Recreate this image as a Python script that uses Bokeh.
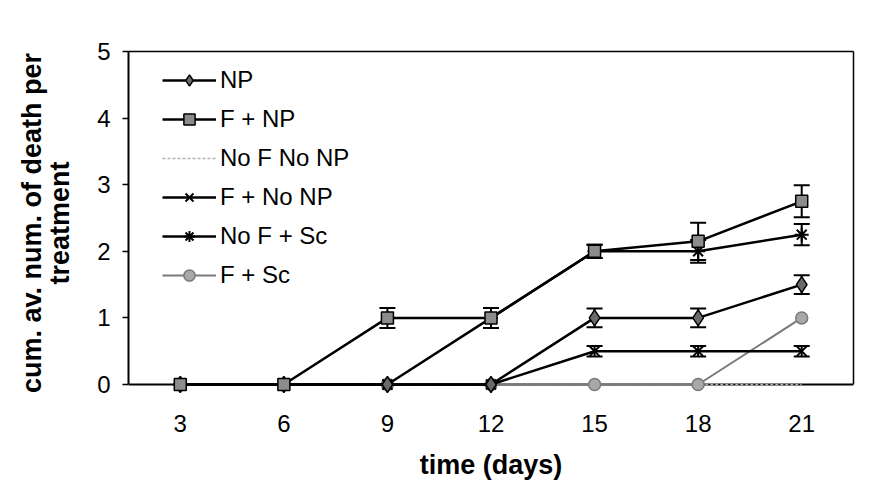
from bokeh.plotting import figure
from bokeh.models import (ColumnDataSource, Whisker, TeeHead, Legend, LegendItem,
                          FixedTicker, Range1d, LinearAxis, Span)
from bokeh.embed import file_html
from bokeh.resources import INLINE

# ---- data ----
days = [3, 6, 9, 12, 15, 18, 21]
np_mean = [0, 0, 0, 0, 1, 1, 1.5]
np_err = [0, 0, 0, 0, 0.14, 0.14, 0.14]
f_np_mean = [0, 0, 1, 1, 2, 2.15, 2.75]
f_np_err = [0, 0, 0.15, 0.15, 0.1, 0.28, 0.24]
nof_nonp_mean = [0, 0, 0, 0, 0, 0, 0]
f_nonp_mean = [0, 0, 0, 0, 0.5, 0.5, 0.5]
f_nonp_err = [0, 0, 0, 0, 0.08, 0.08, 0.08]
nof_sc_mean = [0, 0, 0, 1, 2, 2, 2.25]
nof_sc_err = [0, 0, 0, 0.15, 0.1, 0.17, 0.16]
f_sc_mean = [0, 0, 0, 0, 0, 0, 1]

y_ticks = [0, 1, 2, 3, 4, 5]
y_min, y_max = 0, 5
x_title = "time (days)"
y_title_lines = ["cum. av. num. of death per", "treatment"]

FONT = "Liberation Sans"

p = figure(width=870, height=486, output_backend="svg", toolbar_location=None,
           x_range=Range1d(1.5, 22.5), y_range=Range1d(-0.15, 5),
           min_border_left=128, min_border_top=51, min_border_right=17,
           min_border_bottom=92)
p.background_fill_color = None
p.border_fill_color = None
p.grid.visible = False
p.outline_line_color = None

# axes
p.xaxis.ticker = FixedTicker(ticks=days)
p.yaxis.ticker = FixedTicker(ticks=y_ticks)
p.yaxis.bounds = (y_min, y_max)
for ax in (p.xaxis, p.yaxis):
    ax.axis_line_color = "black"
    ax.axis_line_width = 2
    ax.major_label_text_font = FONT
    ax.major_label_text_font_size = "24px"
    ax.major_label_text_color = "black"
    ax.axis_label_text_font = FONT
    ax.axis_label_text_font_size = "27px"
    ax.axis_label_text_font_style = "bold"
    ax.axis_label_text_color = "black"
    ax.minor_tick_line_color = None
p.xaxis.axis_line_color = None
p.xaxis.major_tick_line_color = None
p.xaxis.major_label_standoff = 14
p.xaxis.axis_label = x_title
p.xaxis.axis_label_standoff = 15
p.yaxis.major_tick_out = 6
p.yaxis.major_tick_in = 0
p.yaxis.major_tick_line_width = 1.5
p.yaxis.major_label_standoff = 12
p.yaxis.axis_label = y_title_lines[1]
p.yaxis.axis_label_standoff = 19

# outer line of the two-line y title
y_title_ax = LinearAxis(ticker=FixedTicker(ticks=[]), major_label_text_font_size="0px",
                        axis_line_color=None, major_tick_line_color=None,
                        minor_tick_line_color=None, major_tick_out=0, major_tick_in=0,
                        major_label_standoff=0, axis_label=y_title_lines[0],
                        axis_label_standoff=-4, axis_label_text_font=FONT,
                        axis_label_text_font_size="27px", axis_label_text_font_style="bold",
                        axis_label_text_color="black")
p.add_layout(y_title_ax, "left")

# x axis line at y = 0
p.add_layout(Span(location=0, dimension="width", line_color="black", line_width=2,
                  level="underlay"))

# frame border on top and right
top_ax = LinearAxis(ticker=FixedTicker(ticks=[]), major_label_text_font_size="0px",
                    axis_line_width=1.5, axis_line_color="black",
                    major_tick_line_color=None, minor_tick_line_color=None)
right_ax = LinearAxis(ticker=FixedTicker(ticks=[]), major_label_text_font_size="0px",
                      axis_line_width=1.5, axis_line_color="black", bounds=(y_min, y_max),
                      major_tick_line_color=None, minor_tick_line_color=None)
p.add_layout(top_ax, "above")
p.add_layout(right_ax, "right")

LW = 2.5

def series(mean, color, marker, fill, size, line_width=LW, dash="solid", mk_lw=1.5):
    r_line = p.line(days, mean, line_color=color, line_width=line_width, line_dash=dash)
    rs = [r_line]
    if marker is not None:
        r_m = p.scatter(days, mean, marker=marker, size=size, fill_color=fill,
                        line_color=color, line_width=mk_lw)
        rs.append(r_m)
    return rs

def errbars(mean, err):
    b = [d for d, e in zip(days, err) if e > 0]
    up = [m + e for m, e in zip(mean, err) if e > 0]
    lo = [m - e for m, e in zip(mean, err) if e > 0]
    src = ColumnDataSource(dict(base=b, upper=up, lower=lo))
    w = Whisker(source=src, base="base", upper="upper", lower="lower",
                line_color="black", line_width=2,
                upper_head=TeeHead(size=16, line_width=2, line_color="black"),
                lower_head=TeeHead(size=16, line_width=2, line_color="black"))
    p.add_layout(w)

r_nonp = series(nof_nonp_mean, "#b0b0b0", None, None, 0, line_width=1.5, dash="3 2")
r_fsc = series(f_sc_mean, "#7a7a7a", "circle", "#a8a8a8", 12, line_width=2)
r_fnonp = series(f_nonp_mean, "black", "x", None, 14, mk_lw=2)
r_nofsc = series(nof_sc_mean, "black", "asterisk", None, 14, mk_lw=2)
r_np = series(np_mean, "black", "diamond", "#6a6a6a", 16)
r_fnp = series(f_np_mean, "black", "square", "#8c8c8c", 12)

errbars(np_mean, np_err)
errbars(f_np_mean, f_np_err)
errbars(f_nonp_mean, f_nonp_err)
errbars(nof_sc_mean, nof_sc_err)

legend = Legend(items=[
    LegendItem(label="NP", renderers=r_np),
    LegendItem(label="F + NP", renderers=r_fnp),
    LegendItem(label="No F No NP", renderers=r_nonp),
    LegendItem(label="F + No NP", renderers=r_fnonp),
    LegendItem(label="No F + Sc", renderers=r_nofsc),
    LegendItem(label="F + Sc", renderers=r_fsc),
], location=(34, 105))
legend.margin = 0
legend.padding = 0
legend.spacing = 11
legend.glyph_width = 54
legend.glyph_height = 28
legend.label_height = 28
legend.label_standoff = 4
legend.label_text_font = FONT
legend.label_text_font_size = "24px"
legend.label_text_color = "black"
legend.label_text_baseline = "middle"
legend.background_fill_alpha = 0
legend.border_line_color = None
p.add_layout(legend)

open("out.html", "w").write(file_html(p, INLINE))
